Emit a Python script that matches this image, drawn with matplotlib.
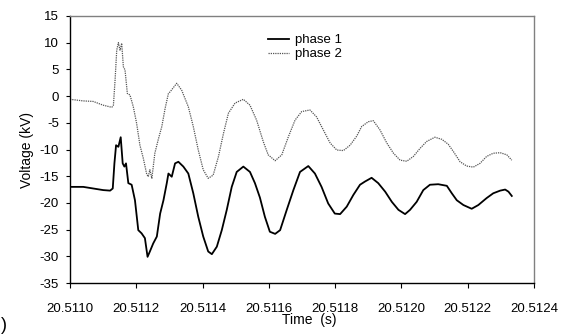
import matplotlib
matplotlib.use("Agg")
import matplotlib.pyplot as plt
import numpy as np

plt.rcParams['font.family'] = ['Liberation Sans', 'DejaVu Sans']

# time offsets in microseconds after 20.5110 s
t1_us = [0, 40, 70, 100, 121, 129, 134, 139, 146, 153, 159, 164, 169, 176, 186, 196,
         206, 216, 226, 234, 241, 251, 262, 272, 282, 292, 297, 307, 317, 327, 342,
         357, 372, 387, 402, 417, 428, 443, 458, 473, 488, 503, 523, 543, 558, 573,
         588, 603, 619, 634, 654, 674, 694, 719, 739, 759, 779, 799, 815, 835, 855,
         875, 890, 910, 930, 951, 971, 991, 1011, 1026, 1046, 1066, 1086, 1111, 1137,
         1152, 1167, 1187, 1212, 1232, 1257, 1277, 1298, 1313, 1323, 1333]
phase1 = [-17.0, -17.0, -17.3, -17.6, -17.7, -17.3, -12.6, -9.2, -9.5, -7.7, -12.6,
          -13.2, -12.6, -16.3, -16.6, -19.5, -25.1, -25.7, -26.6, -30.1, -29.1, -27.6,
          -26.3, -22.0, -19.5, -16.3, -14.5, -15.1, -12.6, -12.3, -13.2, -14.5, -18.2,
          -22.6, -26.3, -29.1, -29.6, -28.2, -25.1, -21.3, -17.0, -14.2, -13.2, -14.2,
          -16.3, -19.0, -22.6, -25.4, -25.8, -25.1, -21.3, -17.6, -14.2, -13.1, -14.5,
          -17.0, -20.1, -22.0, -22.1, -20.7, -18.5, -16.6, -16.0, -15.3, -16.3, -17.9,
          -19.8, -21.3, -22.1, -21.3, -19.8, -17.6, -16.6, -16.5, -16.8, -18.2, -19.5,
          -20.4, -21.1, -20.4, -19.1, -18.2, -17.7, -17.5, -17.9, -18.7]

t2_us = [0, 40, 70, 100, 126, 131, 136, 141, 146, 151, 156, 161, 166, 173, 181, 191,
         201, 211, 221, 231, 236, 241, 247, 256, 266, 277, 287, 297, 302, 322, 337,
         357, 372, 387, 402, 417, 432, 448, 463, 478, 498, 523, 543, 563, 583, 598,
         619, 639, 659, 679, 699, 724, 744, 764, 785, 805, 825, 845, 865, 880, 900,
         915, 935, 956, 976, 996, 1016, 1036, 1056, 1076, 1101, 1122, 1141, 1157,
         1177, 1197, 1217, 1237, 1257, 1277, 1298, 1318, 1333]
phase2 = [-0.6, -0.9, -1.0, -1.7, -2.1, -1.7, 3.0, 8.6, 10.0, 8.6, 9.9, 5.5, 4.9, 0.5,
          0.2, -2.0, -5.1, -9.2, -11.6, -14.5, -15.1, -13.8, -15.4, -10.7, -8.2, -5.7,
          -2.3, 0.5, 0.8, 2.4, 1.1, -2.0, -5.7, -10.1, -13.8, -15.4, -14.8, -11.3,
          -7.0, -3.2, -1.3, -0.6, -1.7, -4.5, -8.5, -11.0, -12.1, -11.0, -7.6, -4.5,
          -2.9, -2.6, -3.9, -6.3, -8.8, -10.1, -10.2, -9.2, -7.5, -5.7, -4.8, -4.6,
          -6.3, -8.8, -10.7, -12.0, -12.2, -11.3, -9.8, -8.5, -7.7, -8.1, -9.0, -10.4,
          -12.3, -13.1, -13.3, -12.6, -11.3, -10.7, -10.6, -11.0, -12.0]

x_ticks = [20.5110, 20.5112, 20.5114, 20.5116, 20.5118, 20.5120, 20.5122, 20.5124]
y_ticks = [15, 10, 5, 0, -5, -10, -15, -20, -25, -30, -35]

t0 = 20.5110
t1 = t0 + np.array(t1_us) * 1e-6
t2 = t0 + np.array(t2_us) * 1e-6

fig = plt.figure(figsize=(5.65, 3.36), dpi=100)
ax = fig.add_axes([70/565, 1-283/336, 464/565, 267/336])

ax.plot(t1, phase1, color='black', lw=1.3, label='phase 1')
ax.plot(t2, phase2, color='#555555', lw=0.9, linestyle=(0, (1, 0.8)), label='phase 2')

ax.set_xlim(x_ticks[0], x_ticks[-1])
ax.set_ylim(-35, 15)
ax.set_xticks(x_ticks)
ax.set_xticklabels([f"{v:.4f}" for v in x_ticks])
ax.set_yticks(y_ticks)
ax.set_yticklabels([str(v) for v in y_ticks])

ax.tick_params(axis='x', direction='out', length=3.5, width=0.8, pad=11, labelsize=9.5)
ax.tick_params(axis='y', direction='out', length=3, width=0.8, pad=5, labelsize=9.5)

for s in ['left', 'bottom']:
    ax.spines[s].set_color('black')
    ax.spines[s].set_linewidth(1.0)
for s in ['top', 'right']:
    ax.spines[s].set_color('#808080')
    ax.spines[s].set_linewidth(1.0)

ax.set_ylabel('Voltage (kV)', fontsize=10, labelpad=4)
fig.text(309.5/565, 1-320/336, 'Time  (s)', fontsize=10, ha='center', va='center')

leg = ax.legend(loc='upper left', bbox_to_anchor=((268-70)/464, (283-34)/267),
                frameon=False, fontsize=9.5, handlelength=1.6, handletextpad=0.45,
                borderpad=0, borderaxespad=0, labelspacing=0.15)

fig.text(0.5/565, 1-326/336, ')', fontsize=13, ha='left', va='center')

fig.savefig('out.png', dpi=100)
